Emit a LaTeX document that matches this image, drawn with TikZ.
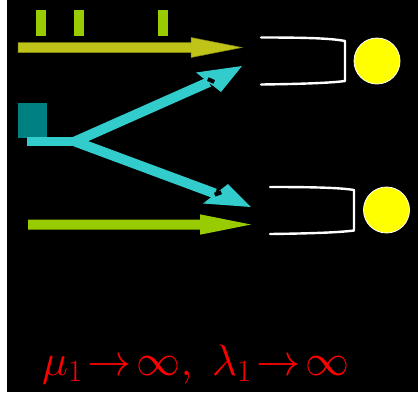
\RequirePackage{fix-cm}
\documentclass[tikz,border=0pt]{standalone}
\usepackage{amsmath}
\definecolor{olivearrow}{RGB}{192,196,24}
\definecolor{limegreen}{RGB}{153,204,0}
\definecolor{cyanarrow}{RGB}{51,204,204}
\definecolor{tealsq}{RGB}{0,128,128}
\definecolor{sunyellow}{RGB}{255,255,0}
\begin{document}
\begin{tikzpicture}[x=1pt,y=-1pt,
  tick/.style={fill=limegreen},
  cup/.style={draw=white,line width=2.4pt,line cap=round,line join=round},
  ball/.style={circle,fill=sunyellow,draw=white,line width=0.8pt,minimum size=46pt,inner sep=0pt},
  shaft/.style={line width=10pt},
  gapmark/.style={fill=black,minimum width=7pt,minimum height=4pt,inner sep=0pt,draw=none}]
\useasboundingbox (0,0) rectangle (418,392);
\fill[white] (0,0) rectangle (418,392);
\fill[black] (7,0) rectangle (418,392);
% tick marks
\fill[tick] (36,10) rectangle (46,36);
\fill[tick] (74,10) rectangle (84,36);
\fill[tick] (158,10) rectangle (168,36);
% top olive arrow
\fill[olivearrow,draw=olivearrow!70!black,line width=0.5pt] (18,42.5) -- (191,42.5) -- (191,37.5) -- (242,47.5) -- (191,57.5) -- (191,52.5) -- (18,52.5) -- cycle;
% teal square
\fill[tealsq] (18,103) rectangle (46.5,137.5);
% cyan stem and branches
\coordinate (fork) at (75,141.5);
\coordinate (tipU) at (242,66);
\coordinate (tipD) at (251,207);
\fill[cyanarrow] (27,137) rectangle (76,146);
\draw[cyanarrow,shaft] (fork) -- (209,82);
\draw[cyanarrow,shaft] (fork) -- (215,193.5);
\fill[cyanarrow] (196,72.5) -- (tipU) -- (221,92) -- cycle;
\fill[cyanarrow] (203,203.5) -- (228,184) -- (tipD) -- cycle;
\node[gapmark,rotate=-24] (mU) at (211,80.5) {};
\node[gapmark,rotate=20.5] (mD) at (218,193.5) {};
% lower green arrow
\fill[limegreen] (28,219.5) -- (200,219.5) -- (200,214.3) -- (251,224.5) -- (200,234.7) -- (200,229.7) -- (28,229.7) -- cycle;
% cups
\draw[cup] (261,37.5) .. controls (300,37.5) and (330,38) .. (345,41) -- (345,81) .. controls (330,83) and (300,84) .. (261,84.5);
\draw[cup] (270,187) .. controls (309,187) and (339,187.5) .. (354,190) -- (354,230.5) .. controls (339,232.5) and (309,233.5) .. (270,234);
% balls
\node[ball] (b1) at (377,61) {};
\node[ball] (b2) at (386.5,210) {};
% formula
\node[anchor=base west,inner sep=0pt,text=red,font=\fontsize{44}{48}\selectfont] (formula) at (42,375)
  {$\mu_1\!\to\!\infty,\;\lambda_1\!\to\!\infty$};
\end{tikzpicture}
\end{document}
